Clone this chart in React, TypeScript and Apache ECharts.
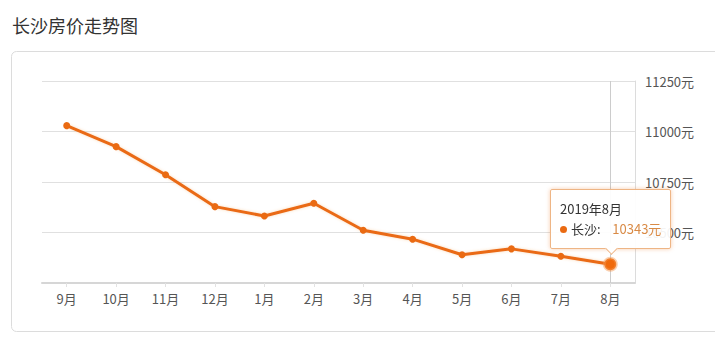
import React, { useEffect, useRef } from "react";
import * as echarts from "echarts";

const categories = ["9月", "10月", "11月", "12月", "1月", "2月", "3月", "4月", "5月", "6月", "7月", "8月"];
const prices = [11029, 10925, 10786, 10628, 10582, 10645, 10511, 10467, 10390, 10419, 10382, 10343];
const tooltipTitle = "2019年8月";
const seriesName = "长沙";
const yMin = 10250;
const yMax = 11250;
const yInterval = 250;
const lineColor = "#ea6a12";

export default function App() {
  const ref = useRef<HTMLDivElement>(null);
  useEffect(() => {
    document.body.style.margin = "0";
    const chart = echarts.init(ref.current!, undefined, { renderer: "svg" });
    const last = prices.length - 1;
    chart.setOption({
      animation: false,
      title: {
        text: "长沙房价走势图",
        left: 7,
        top: 11,
        textStyle: { fontSize: 18, fontWeight: "normal", color: "#333", fontFamily: "Noto Sans CJK SC" },
      },
      graphic: [
        {
          type: "rect",
          shape: { x: 11.5, y: 51.5, width: 730, height: 280, r: 5 },
          style: { fill: "none", stroke: "#dcdcdc", lineWidth: 1 },
          silent: true,
        },
      ],
      grid: { left: 42, right: 80, top: 81, bottom: 58 },
      tooltip: {
        trigger: "item",
        alwaysShowContent: true,
        transitionDuration: 0,
        position: (point: number[], _p: any, _d: any, rect: any, size: any) => {
          const cx = rect ? rect.x + rect.width / 2 : point[0];
          const cy = rect ? rect.y + rect.height / 2 : point[1];
          return [cx - size.contentSize[0] / 2, cy - size.contentSize[1] - 15];
        },
        backgroundColor: "rgba(255,255,255,0.93)",
        borderColor: "#eeb585",
        borderWidth: 1,
        padding: [9, 9, 9, 9],
        extraCssText: "box-shadow: 0 0 4px rgba(234,106,18,0.35); border-radius: 2px; overflow: visible;",
        textStyle: { fontSize: 13, color: "#333", fontFamily: "Noto Sans CJK SC" },
        formatter: (p: any) =>
          `<div style="line-height:20px;font-size:13px">${tooltipTitle}</div>` +
          `<div style="line-height:20px;font-size:13px"><span style="display:inline-block;width:7px;height:7px;border-radius:50%;background:${lineColor};margin-right:4px;vertical-align:1px"></span>${seriesName}:&nbsp;&nbsp;&nbsp;&nbsp;<span style="color:#d98a45">${p.value}元</span></div>` +
          `<div style="position:absolute;left:50%;bottom:-5px;width:8px;height:8px;margin-left:-4px;background:#fff;border-right:1px solid #eeb585;border-bottom:1px solid #eeb585;transform:rotate(45deg)"></div>`,
      },
      xAxis: {
        type: "category",
        data: categories,
        boundaryGap: true,
        axisLine: { lineStyle: { color: "#d6d6d6", width: 2 } },
        axisTick: { show: true, alignWithLabel: true, length: 4, lineStyle: { color: "#e2e2e2" } },
        axisLabel: { color: "#555", fontSize: 13, margin: 9, fontFamily: "Noto Sans CJK SC" },
      },
      yAxis: {
        type: "value",
        position: "right",
        min: yMin,
        max: yMax,
        interval: yInterval,
        axisLine: { show: true, lineStyle: { color: "#dcdcdc" } },
        axisTick: { show: false },
        splitLine: { lineStyle: { color: "#e0e0e0" } },
        axisLabel: {
          color: "#555",
          fontSize: 13,
          margin: 10,
          showMinLabel: false,
          formatter: (v: number) => `${v}元`,
          fontFamily: "Noto Sans CJK SC",
        },
      },
      series: [
        {
          name: "pointer",
          type: "line",
          data: [],
          silent: true,
          z: 1,
          markLine: {
            silent: true,
            z: 1,
            symbol: "none",
            label: { show: false },
            lineStyle: { color: "#cccccc", width: 1, type: "solid" },
            data: [{ xAxis: categories[last] }],
          },
          tooltip: { show: false },
        },
        {
          name: seriesName,
          type: "line",
          data: prices.map((v, i) =>
            i === last
              ? { value: v, symbolSize: 12, itemStyle: { color: "#f06a0c", borderColor: "rgba(245,150,80,0.45)", borderWidth: 3 } }
              : v
          ),
          symbol: "circle",
          symbolSize: 7,
          itemStyle: { color: lineColor },
          lineStyle: { color: lineColor, width: 3, shadowColor: "rgba(240,150,60,0.35)", shadowBlur: 3 },
          z: 3,
        },
      ],
    });
    chart.dispatchAction({ type: "showTip", seriesIndex: 1, dataIndex: last });
    return () => chart.dispose();
  }, []);
  return <div ref={ref} style={{ width: 715, height: 341 }} />;
}
